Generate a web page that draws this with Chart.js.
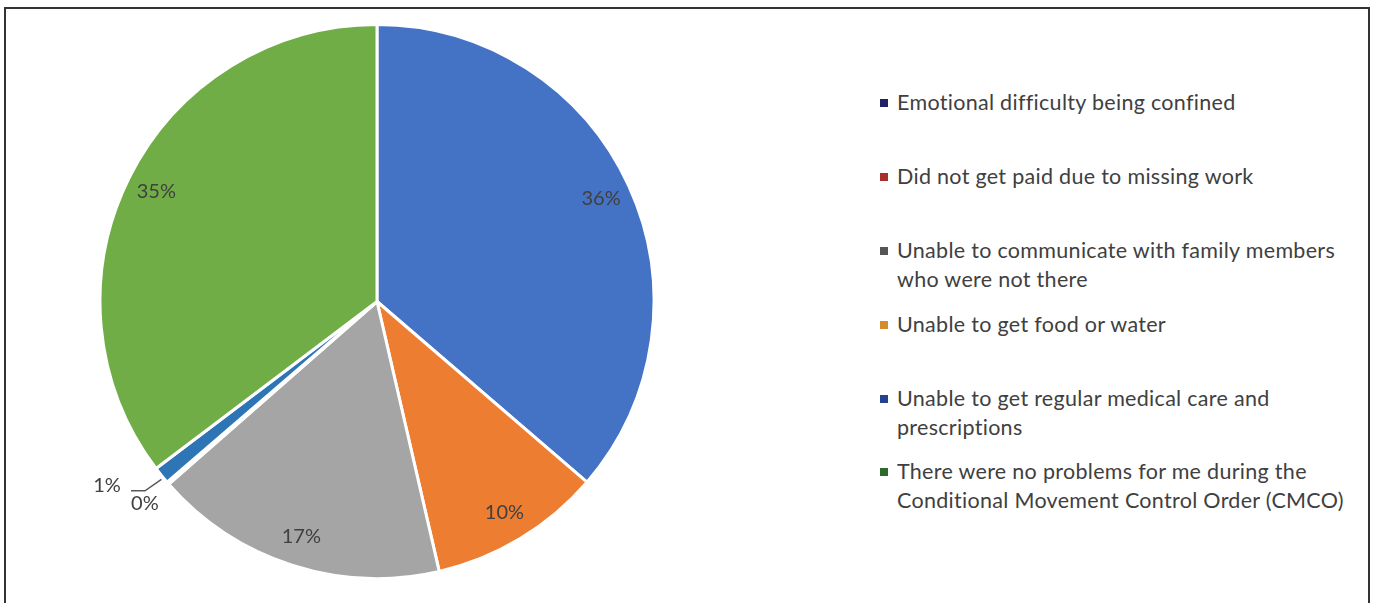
<!DOCTYPE html>
<html>
<head>
<meta charset="utf-8">
<script src="https://cdn.jsdelivr.net/npm/chart.js@4"></script>
<style>
  html, body { margin: 0; padding: 0; background: #fff; }
  body { width: 1378px; height: 603px; position: relative; overflow: hidden; font-family: Lato, "Open Sans", sans-serif; }
  #frame { position: absolute; left: 4px; top: 7px; width: 1362px; height: 610px; border: 2px solid #333; border-bottom: none; }
  #pieBox { position: absolute; left: 8px; top: 23px; width: 738px; height: 557px; }
  #legend { position: absolute; left: 880px; top: 88px; width: 490px; color: #404040; font-size: 21.5px; line-height: 29px; letter-spacing: 0.3px; }
  .item { position: absolute; padding-left: 17px; white-space: nowrap; }
  .item .mk { position: absolute; left: 0; top: 11px; width: 8px; height: 8px; }
</style>
</head>
<body>
<div id="frame"></div>
<div id="pieBox"><canvas id="pie"></canvas></div>
<div id="legend"></div>
<script>
// legend order as printed beside the chart
const categories = [
  ["Emotional difficulty being confined"],
  ["Did not get paid due to missing work"],
  ["Unable to communicate with family members", "who were not there"],
  ["Unable to get food or water"],
  ["Unable to get regular medical care and", "prescriptions"],
  ["There were no problems for me during the", "Conditional Movement Control Order (CMCO)"]
];
// slice shares, clockwise from 12 o'clock (percent)
const shares = [36, 10, 17, 0.15, 1, 35];
const shareLabels = ["36%", "10%", "17%", "0%", "1%", "35%"];
const sliceColors = ["#4472C4", "#ED7D31", "#A5A5A5", "#C0392B", "#2E75B6", "#70AD47"];
const markerColors = ["#1F2266", "#A8302B", "#555555", "#D58B2B", "#24428F", "#2B6A2B"];

// html legend
const legendTops = [0, 74, 148, 222, 296, 369];
const lg = document.getElementById("legend");
categories.forEach((lines, i) => {
  const d = document.createElement("div");
  d.className = "item";
  d.style.top = legendTops[i] + "px";
  d.innerHTML = `<span class="mk" style="background:${markerColors[i]}"></span>` + lines.join("<br>");
  lg.appendChild(d);
});

const pctLabels = {
  id: "pctLabels",
  afterDatasetsDraw(chart) {
    const ctx = chart.ctx;
    const arcs = chart.getDatasetMeta(0).data;
    ctx.save();
    ctx.font = "20px Lato";
    ctx.fillStyle = "#404040";
    ctx.textAlign = "center";
    ctx.textBaseline = "middle";
    arcs.forEach((a, i) => {
      const mid = (a.startAngle + a.endAngle) / 2;
      const R = a.outerRadius;
      if (shares[i] >= 5) {
        ctx.fillText(shareLabels[i], a.x + Math.cos(mid) * R * 0.89, a.y + Math.sin(mid) * R * 0.89);
      } else if (shares[i] < 0.5) {
        ctx.fillText(shareLabels[i], a.x + Math.cos(mid) * R * 1.11, a.y + Math.sin(mid) * R * 1.11);
      } else {
        // outside label with a leader line
        const ex = a.x + Math.cos(mid) * R, ey = a.y + Math.sin(mid) * R;
        const tx = a.x + Math.cos(mid + 0.08) * R * 1.18, ty = a.y + Math.sin(mid + 0.08) * R * 1.18;
        ctx.strokeStyle = "#595959";
        ctx.lineWidth = 1.5;
        ctx.beginPath();
        ctx.moveTo(ex, ey + 4);
        ctx.lineTo(tx + 38, ty + 5);
        ctx.lineTo(tx + 24, ty + 5);
        ctx.stroke();
        ctx.fillText(shareLabels[i], tx, ty);
      }
    });
    ctx.restore();
  }
};

new Chart(document.getElementById("pie"), {
  type: "pie",
  data: {
    labels: categories.map(l => l.join(" ")),
    datasets: [{
      data: shares,
      backgroundColor: sliceColors,
      borderColor: "#ffffff",
      borderWidth: 3,
      hoverOffset: 0
    }]
  },
  options: {
    responsive: true,
    maintainAspectRatio: false,
    animation: false,
    plugins: { legend: { display: false }, tooltip: { enabled: false } }
  },
  plugins: [pctLabels]
});
</script>
</body>
</html>
